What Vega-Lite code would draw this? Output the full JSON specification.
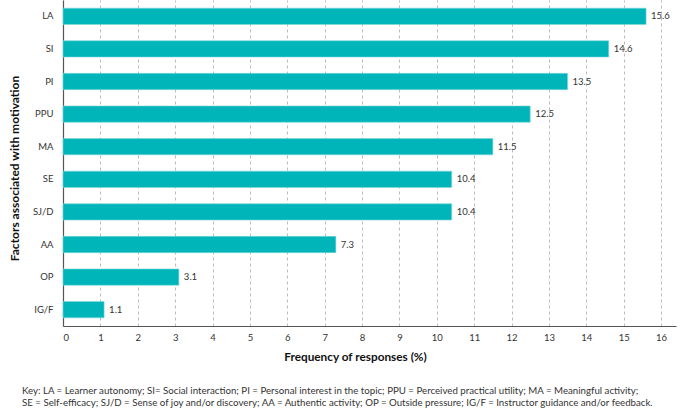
{
  "$schema": "https://vega.github.io/schema/vega-lite/v6.json",
  "autosize": {"type": "none"},
  "width": 613,
  "height": 326,
  "padding": {"left": 63, "top": 0, "right": 9, "bottom": 85},
  "background": "white",
  "config": {
    "font": "Lato",
    "view": {"stroke": null}
  },
  "title": {
    "text": ["Key: LA = Learner autonomy; SI= Social interaction; PI = Personal interest in the topic; PPU = Perceived practical utility; MA = Meaningful activity;", "SE = Self-efficacy; SJ/D = Sense of joy and/or discovery; AA = Authentic activity; OP = Outside pressure; IG/F = Instructor guidance and/or feedback."],
    "orient": "bottom",
    "anchor": "start",
    "frame": "group",
    "align": "left",
    "dx": -41,
    "offset": 23,
    "fontSize": 9.7,
    "fontWeight": "normal",
    "lineHeight": 11.5,
    "color": "#333"
  },
  "data": {
    "values": [
      {"factor": "LA", "value": 15.6},
      {"factor": "SI", "value": 14.6},
      {"factor": "PI", "value": 13.5},
      {"factor": "PPU", "value": 12.5},
      {"factor": "MA", "value": 11.5},
      {"factor": "SE", "value": 10.4},
      {"factor": "SJ/D", "value": 10.4},
      {"factor": "AA", "value": 7.3},
      {"factor": "OP", "value": 3.1},
      {"factor": "IG/F", "value": 1.1}
    ]
  },
  "encoding": {
    "y": {
      "field": "factor",
      "type": "nominal",
      "sort": null,
      "scale": {"paddingInner": 0.5, "paddingOuter": 0.25},
      "axis": {
        "title": "Factors associated with motivation",
        "titleFontSize": 12,
        "titleFontWeight": "bold",
        "titleColor": "#111",
        "titlePadding": 11,
        "titleY": 168,
        "labelFontSize": 9.5,
        "labelColor": "#333",
        "labelPadding": 10,
        "ticks": false,
        "domainColor": "#555",
        "domainWidth": 1.2
      }
    },
    "x": {
      "field": "value",
      "type": "quantitative",
      "scale": {"domain": [0, 16.4], "nice": false},
      "axis": {
        "title": "Frequency of responses (%)",
        "values": [0,1,2,3,4,5,6,7,8,9,10,11,12,13,14,15,16],
        "titleFontSize": 11.8,
        "titleFontWeight": "bold",
        "titleColor": "#111",
        "titlePadding": 10,
        "titleX": 292,
        "labelFontSize": 9.5,
        "labelColor": "#333",
        "labelPadding": 6,
        "ticks": false,
        "grid": true,
        "gridDash": [3, 3],
        "gridColor": "#bbbbbb",
        "domainColor": "#555",
        "domainWidth": 1.2
      }
    }
  },
  "layer": [
    {"mark": {"type": "bar", "color": "#00b5b9", "stroke": "#7fd9db", "strokeWidth": 0.6}},
    {"mark": {"type": "text", "align": "left", "dx": 5, "fontSize": 9.5, "color": "#333"},
     "encoding": {"text": {"field": "value", "type": "quantitative", "format": ".1f"}}}
  ]
}
